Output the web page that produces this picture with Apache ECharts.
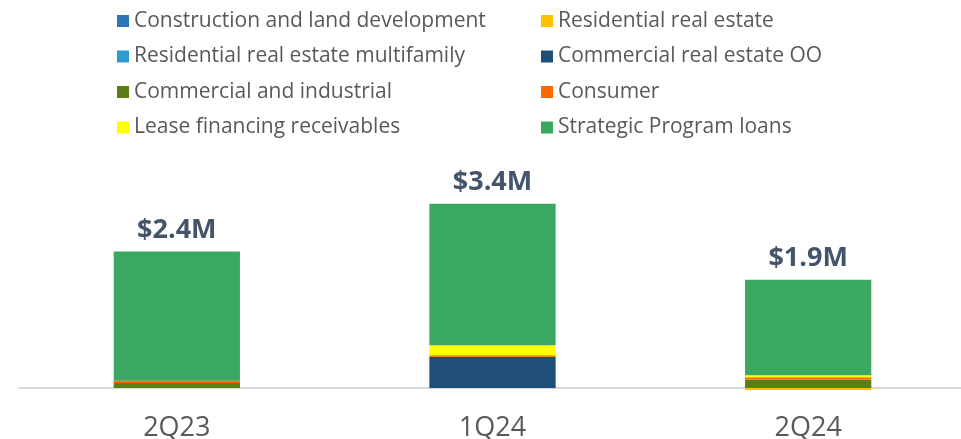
<!DOCTYPE html>
<html>
<head>
<meta charset="utf-8">
<script src="https://cdn.jsdelivr.net/npm/echarts@6/dist/echarts.min.js"></script>
<style>
  html, body { margin: 0; padding: 0; background: #fff; }
  #main { width: 961px; height: 439px; }
</style>
</head>
<body>
<div id="main"></div>
<script>
  // quarters and loan buckets, values in $M
  var quarters = ['2Q23', '1Q24', '2Q24'];
  var totalLabels = ['$2.4M', '$3.4M', '$1.9M'];

  var construction = [0, 0, 0];
  var residential = [0, 0, -0.04];
  var multifamily = [0, 0, 0];
  var creOO = [0, 0.56, 0];
  var commercialInd = [0.09, 0, 0.15];
  var consumer = [0.04, 0.03, 0.04];
  var leaseFin = [0, 0.18, 0.04];
  var strategic = [2.33, 2.55, 1.72];

  var names = [
    'Construction and land development', 'Residential real estate',
    'Residential real estate multifamily', 'Commercial real estate OO',
    'Commercial and industrial', 'Consumer',
    'Lease financing receivables', 'Strategic Program loans'
  ];
  var values = [construction, residential, multifamily, creOO, commercialInd, consumer, leaseFin, strategic];
  var colors = ['#2E75B6', '#FFC000', '#2E9BCB', '#1F4E79', '#5B7F15', '#FF6A00', '#FFFF00', '#3BA862'];

  var myChart = echarts.init(document.getElementById('main'));

  var series = names.map(function (n, i) {
    var s = {
      name: n,
      type: 'bar',
      stack: 'total',
      barWidth: '40%',
      data: values[i],
      itemStyle: { color: colors[i] }
    };
    if (i === names.length - 1) {
      s.label = {
        show: true,
        position: 'top',
        distance: 8,
        formatter: function (p) { return totalLabels[p.dataIndex]; },
        fontFamily: 'Open Sans',
        fontWeight: 'bold',
        fontSize: 27,
        color: '#44546A'
      };
    }
    return s;
  });

  var legendText = { fontFamily: 'Open Sans', fontSize: 21, color: '#595959', lineHeight: 24 };

  var option = {
    animation: false,
    legend: [{
      orient: 'vertical',
      left: 112,
      top: 4,
      itemWidth: 12,
      itemHeight: 12,
      itemGap: 11.5,
      icon: 'rect',
      textStyle: legendText,
      data: [names[0], names[2], names[4], names[6]]
    }, {
      orient: 'vertical',
      left: 536,
      top: 4,
      itemWidth: 12,
      itemHeight: 12,
      itemGap: 11.5,
      icon: 'rect',
      textStyle: legendText,
      data: [names[1], names[3], names[5], names[7]]
    }],
    grid: { left: 19, right: -5, top: 166, bottom: 40, outerBoundsMode: 'none' },
    xAxis: {
      type: 'category',
      data: quarters,
      axisLine: { lineStyle: { color: '#D9D9D9', width: 2 } },
      axisTick: { show: false },
      axisLabel: { margin: 16, fontFamily: 'Open Sans', fontSize: 27, color: '#595959' }
    },
    yAxis: {
      type: 'value',
      min: -0.2,
      max: 4,
      show: false,
      splitLine: { show: false }
    },
    series: series
  };

  myChart.setOption(option);
</script>
</body>
</html>
